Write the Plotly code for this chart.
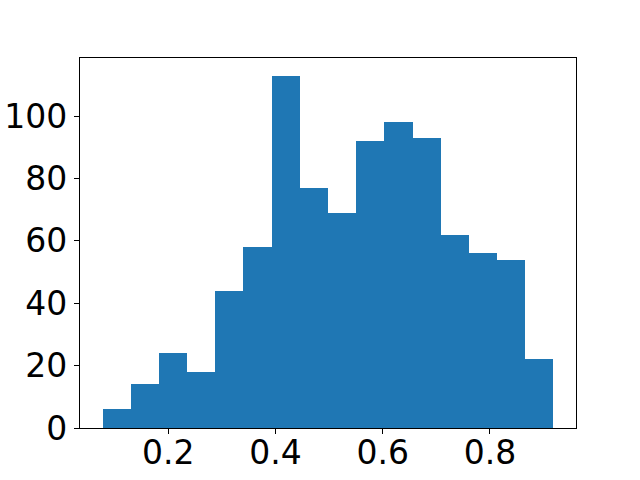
import plotly.graph_objects as go

# Histogram data (counts per bin)
bin_start = 0.0775
bin_width = 0.05256
counts = [6, 14, 24, 18, 44, 58, 113, 77, 69, 92, 98, 93, 62, 56, 54, 22]
x_ticks = [0.2, 0.4, 0.6, 0.8]
x_tick_labels = ["0.2", "0.4", "0.6", "0.8"]
y_ticks = [0, 20, 40, 60, 80, 100]
y_tick_labels = ["0", "20", "40", "60", "80", "100"]

centers = [bin_start + (i + 0.5) * bin_width for i in range(len(counts))]
lo = bin_start
hi = bin_start + bin_width * len(counts)
span = hi - lo

fig = go.Figure(go.Bar(
    x=centers, y=counts, width=[bin_width] * len(counts),
    marker=dict(color="#1f77b4", line=dict(width=0)),
))

axis_common = dict(
    showline=True, linecolor="black", linewidth=1.1, mirror=True,
    ticks="outside", ticklen=5, tickwidth=1.1, tickcolor="black",
    showgrid=False, zeroline=False,
    tickfont=dict(family="DejaVu Sans", size=33, color="black"),
    automargin=False,
)

fig.update_layout(
    width=640, height=480,
    margin=dict(l=80, r=64, t=58, b=52),
    paper_bgcolor="white", plot_bgcolor="white",
    bargap=0, showlegend=False,
    xaxis=dict(range=[lo - 0.05 * span, hi + 0.05 * span],
               tickvals=x_ticks, ticktext=x_tick_labels,
               ticklabelstandoff=-10, **axis_common),
    yaxis=dict(range=[0, max(counts) * 1.05],
               tickvals=y_ticks, ticktext=y_tick_labels, **axis_common),
)

fig.write_html(
    "out.html",
    config={"displayModeBar": False},
    post_script="document.body.style.margin='0';document.body.style.overflow='hidden';",
)
